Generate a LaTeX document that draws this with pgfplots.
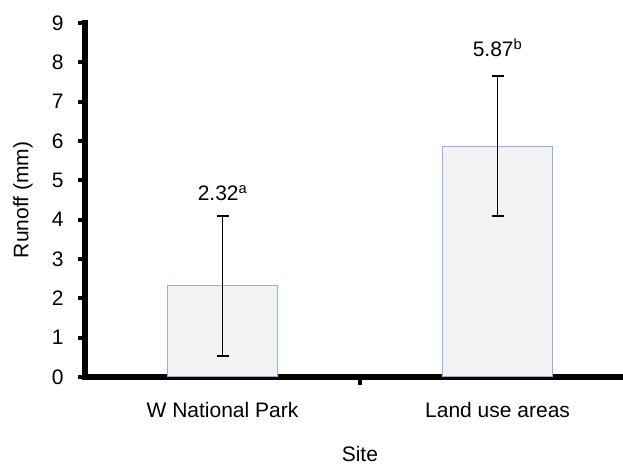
\documentclass[border=0pt]{standalone}
\usepackage{pgfplots}
\pgfplotsset{compat=1.18}
\usepackage{fontspec}
\setmainfont{Liberation Sans}
\definecolor{barfill}{HTML}{F2F2F2}
\definecolor{baredge}{HTML}{8DB3E2}
\begin{document}
\begin{tikzpicture}
\path[use as bounding box] (-85pt,-88pt) rectangle (538pt,377pt);
\begin{axis}[
  at={(0,0)}, anchor=south west,
  scale only axis, width=538pt, height=354pt,
  xmin=-0.5, xmax=1.456, ymin=0, ymax=9,
  axis x line=bottom, axis y line=left,
  axis line style={line width=5.5pt, -, line cap=rect},
  tick align=outside,
  ytick={0,1,...,9},
  xtick={0,1}, xticklabels={W National Park, Land use areas},
  minor xtick={0.5},
  major x tick style={draw=none},
  minor x tick style={line width=4.5pt, black},
  minor tick length=8pt,
  major y tick style={line width=4pt, black},
  major tick length=7pt,
  tick label style={font=\fontsize{21}{25}\selectfont},
  /pgf/number format/assume math mode=true,
  yticklabel style={xshift=-11pt},
  xticklabel style={yshift=-15pt},
  xlabel={Site}, ylabel={Runoff (mm)},
  label style={font=\fontsize{21}{25}\selectfont},
  xlabel style={at={(axis description cs:0.511,-0.2373)}, anchor=base, inner sep=0pt},
  ylabel style={at={(axis description cs:-0.1152,0.5)}, anchor=center},
  clip=false,
]
\addplot[ybar, bar width=110pt, fill=barfill, draw=baredge, line width=1pt,
  error bars/.cd, y dir=both, y explicit,
  error bar style={black, line width=1.8pt},
  error mark options={black, rotate=90, mark size=6pt, line width=1.8pt}]
  coordinates {(0,2.32) +- (0,1.78) (1,5.87) +- (0,1.78)};
\node[font=\fontsize{21}{25}\selectfont] at (axis cs:0,4.68) {2.32\textsuperscript{a}};
\node[font=\fontsize{21}{25}\selectfont] at (axis cs:1,8.37) {5.87\textsuperscript{b}};
\end{axis}
\end{tikzpicture}
\end{document}
